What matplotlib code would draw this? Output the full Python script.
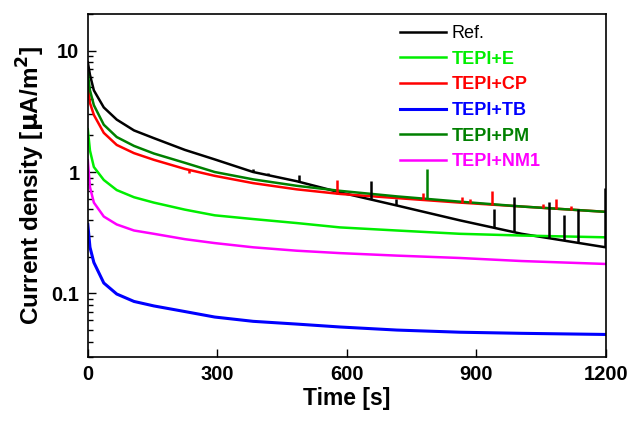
import numpy as np
import matplotlib
matplotlib.use('Agg')
import matplotlib.pyplot as plt
from matplotlib.ticker import LogLocator, FixedLocator, NullFormatter

plt.rcParams['font.family'] = ['Liberation Sans', 'DejaVu Sans']

time_s = [0, 5, 14, 37, 67, 107, 153, 225, 294, 383, 484, 584, 716, 862, 1005, 1200]

ref      = [8.0, 6.3, 4.7, 3.4, 2.7, 2.2, 1.9, 1.52, 1.27, 1.0, 0.84, 0.68, 0.53, 0.40, 0.31, 0.24]
tepi_e   = [2.25, 1.5, 1.1, 0.86, 0.71, 0.62, 0.56, 0.49, 0.44, 0.41, 0.38, 0.35, 0.33, 0.31, 0.30, 0.29]
tepi_cp  = [5.2, 3.7, 2.95, 2.1, 1.67, 1.43, 1.26, 1.06, 0.93, 0.81, 0.72, 0.66, 0.61, 0.56, 0.52, 0.47]
tepi_tb  = [0.37, 0.24, 0.18, 0.122, 0.099, 0.086, 0.079, 0.071, 0.064, 0.059, 0.056, 0.053, 0.050, 0.048, 0.047, 0.046]
tepi_pm  = [6.5, 4.7, 3.55, 2.45, 1.94, 1.64, 1.42, 1.19, 1.0, 0.87, 0.77, 0.70, 0.63, 0.57, 0.52, 0.47]
tepi_nm1 = [1.25, 0.75, 0.56, 0.43, 0.37, 0.33, 0.31, 0.28, 0.26, 0.24, 0.225, 0.215, 0.205, 0.196, 0.185, 0.175]

# noise spikes (time, top value)
ref_spike_t = [383, 418, 490, 655, 713, 940, 988, 1068, 1103, 1135, 1198]
ref_spike_top = [1.05, 0.98, 0.95, 0.84, 0.60, 0.50, 0.62, 0.57, 0.44, 0.50, 0.74]
cp_spike_t = [235, 578, 777, 866, 885, 937, 1055, 1085, 1120]
cp_spike_top = [0.98, 0.86, 0.67, 0.62, 0.60, 0.70, 0.55, 0.60, 0.53]
pm_spike_t = [787]
pm_spike_top = [1.05]

labels = ['Ref.', 'TEPI+E', 'TEPI+CP', 'TEPI+TB', 'TEPI+PM', 'TEPI+NM1']
colors = ['black', '#00ee00', 'red', 'blue', 'green', 'magenta']
series = [ref, tepi_e, tepi_cp, tepi_tb, tepi_pm, tepi_nm1]
widths = [1.8, 1.8, 1.8, 2.2, 1.8, 1.8]

fig = plt.figure(figsize=(6.41, 4.23), dpi=100)
ax = fig.add_axes([0.137, 0.156, 0.808, 0.811])

for y, c, lab, w in zip(series, colors, labels, widths):
    ax.plot(time_s, y, color=c, lw=w, label=lab)

for st, top, y, c in [(ref_spike_t, ref_spike_top, ref, 'black'),
                      (cp_spike_t, cp_spike_top, tepi_cp, 'red'),
                      (pm_spike_t, pm_spike_top, tepi_pm, 'green')]:
    base = np.interp(st, time_s, y)
    ax.vlines(st, base, top, color=c, lw=1.8)

ax.set_yscale('log')
ax.set_xlim(0, 1200)
ax.set_ylim(0.03, 20)
ax.set_xticks([0, 300, 600, 900, 1200])
ax.yaxis.set_major_locator(FixedLocator([0.1, 1, 10]))
ax.set_yticklabels(['0.1', '1', '10'])
ax.yaxis.set_minor_locator(LogLocator(base=10, subs=np.arange(2, 10)))
ax.yaxis.set_minor_formatter(NullFormatter())
ax.tick_params(axis='both', which='major', direction='in', length=6, width=1,
               labelsize=14.5, pad=6)
ax.tick_params(axis='y', which='minor', direction='in', length=3.5, width=1)
for lbl in ax.get_xticklabels() + ax.get_yticklabels():
    lbl.set_fontweight('bold')
for s in ax.spines.values():
    s.set_linewidth(1.2)

ax.set_xlabel('Time [s]', fontsize=16.5, fontweight='bold', labelpad=2)
ax.set_ylabel(r'Current density [$\mathbf{\mu}$A/m$^\mathbf{2}$]', fontsize=17.5,
              fontweight='bold', labelpad=3)

leg = ax.legend(loc='upper left', frameon=False, fontsize=13, handlelength=2.55,
                handletextpad=0.35, labelspacing=0.48, borderpad=0, borderaxespad=0,
                bbox_to_anchor=(0.602, 0.968))
for txt, c in zip(leg.get_texts(), colors):
    txt.set_color(c)
    if txt.get_text() != 'Ref.':
        txt.set_fontweight('bold')

fig.savefig('out.png', dpi=100)
